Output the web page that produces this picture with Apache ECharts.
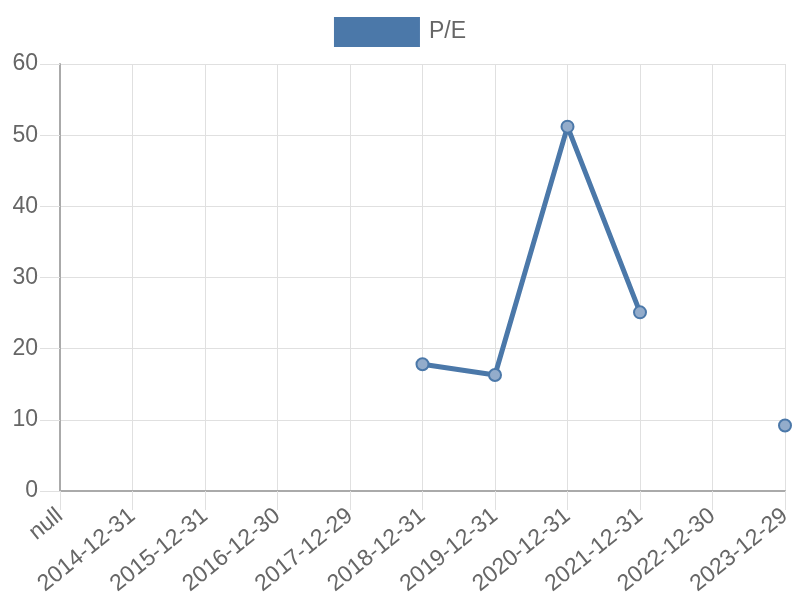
<!DOCTYPE html>
<html>
<head>
<meta charset="utf-8">
<script src="https://cdn.jsdelivr.net/npm/echarts@6/dist/echarts.min.js"></script>
<style>
  html, body { margin: 0; padding: 0; background: #fff; }
  #chart { width: 800px; height: 600px; }
</style>
</head>
<body>
<div id="chart"></div>
<script>
const categories = ['null', '2014-12-31', '2015-12-31', '2016-12-30', '2017-12-29', '2018-12-31',
  '2019-12-31', '2020-12-31', '2021-12-31', '2022-12-30', '2023-12-29'];
const peValues = [null, null, null, null, null, 17.8, 16.3, 51.2, 25.1, null, 9.2];
const seriesName = 'P/E';

const lineColor = '#4b78a9';
const gridColor = '#e0e0e0';
const axisColor = '#aaaaaa';
const textColor = '#666666';
const font = '"Liberation Sans", Arial, sans-serif';

const chart = echarts.init(document.getElementById('chart'));

chart.setOption({
  animation: false,
  textStyle: { fontFamily: font },
  legend: {
    top: 17,
    left: 'center',
    padding: 0,
    icon: 'rect',
    itemWidth: 86,
    itemHeight: 30,
    textStyle: { fontSize: 23, color: textColor, fontFamily: font, padding: [0, 0, 0, 4] },
    data: [{ name: seriesName, itemStyle: { color: lineColor, borderWidth: 0 } }]
  },
  grid: { left: 60, right: 15, top: 64, bottom: 109, containLabel: false },
  xAxis: {
    type: 'category',
    boundaryGap: false,
    data: categories,
    axisLine: { lineStyle: { color: axisColor, width: 2 } },
    axisTick: { show: true, length: 19, lineStyle: { color: gridColor, width: 1 } },
    splitLine: { show: true, lineStyle: { color: gridColor, width: 1 } },
    axisLabel: {
      rotate: 39,
      margin: 22,
      fontSize: 23,
      color: textColor,
      fontFamily: font,
      interval: 0
    }
  },
  yAxis: {
    type: 'value',
    min: 0,
    max: 60,
    interval: 10,
    axisLine: { show: true, lineStyle: { color: axisColor, width: 2 } },
    axisTick: { show: true, length: 20, lineStyle: { color: gridColor, width: 1 } },
    splitLine: { show: true, lineStyle: { color: gridColor, width: 1 } },
    axisLabel: { margin: 22, fontSize: 23, color: textColor, fontFamily: font }
  },
  series: [
    {
      name: seriesName,
      type: 'line',
      data: peValues,
      connectNulls: false,
      showAllSymbol: true,
      symbol: 'circle',
      symbolSize: 12,
      lineStyle: { color: lineColor, width: 5 },
      itemStyle: { color: '#93accb', borderColor: lineColor, borderWidth: 2 }
    }
  ]
});
</script>
</body>
</html>
